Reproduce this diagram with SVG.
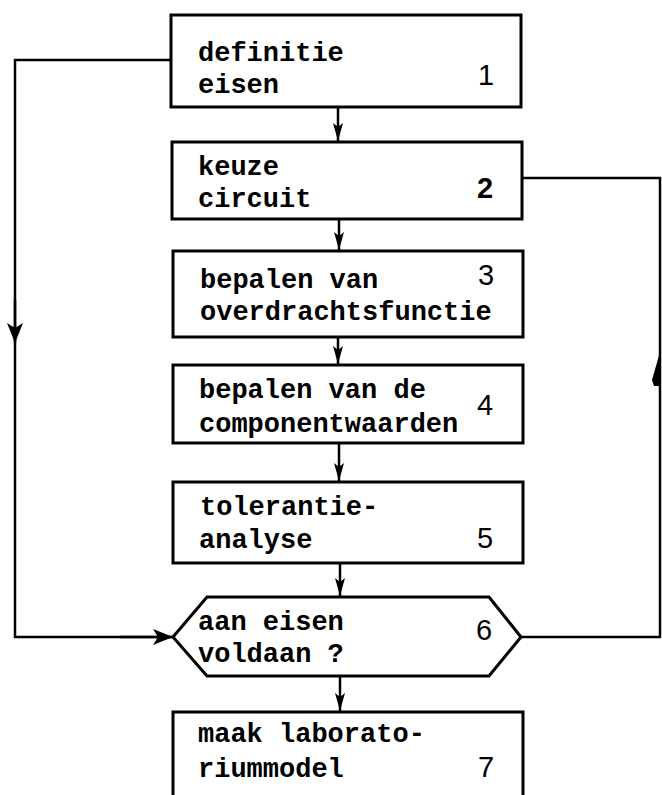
<svg xmlns="http://www.w3.org/2000/svg" width="662" height="795" viewBox="0 0 662 795">
  <style>
    .box { fill: #fff; stroke: #000; stroke-width: 3; }
    .line { fill: none; stroke: #000; stroke-width: 2.5; }
    .t { font-family: "Liberation Mono", "Courier New", monospace; font-size: 27px; font-weight: bold; fill: #000; }
    .n { font-family: "Liberation Sans", Arial, sans-serif; font-size: 29px; fill: #000; }
  </style>
  <defs>
    <marker id="arrow" viewBox="0 0 18 11" refX="18" refY="5.5" markerWidth="18" markerHeight="11" markerUnits="userSpaceOnUse" orient="auto">
      <path d="M0,0.5 L18,5.5 L0,10.5 L4,5.5 Z" fill="#000"/>
    </marker>
    <marker id="arrow-big" viewBox="0 0 20 16" refX="20" refY="8" markerWidth="20" markerHeight="16" markerUnits="userSpaceOnUse" orient="auto">
      <path d="M0,0 L20,8 L0,16 L5,8 Z" fill="#000"/>
    </marker>
  </defs>
  <rect width="662" height="795" fill="#fff"/>

  <g id="connectors">
    <!-- main flow -->
    <line class="line" x1="338" y1="107" x2="338" y2="141" marker-end="url(#arrow)"/>
    <line class="line" x1="339" y1="220" x2="339" y2="250" marker-end="url(#arrow)"/>
    <line class="line" x1="338" y1="337" x2="338" y2="364" marker-end="url(#arrow)"/>
    <line class="line" x1="339" y1="443" x2="339" y2="481" marker-end="url(#arrow)"/>
    <line class="line" x1="340" y1="563" x2="340" y2="596" marker-end="url(#arrow)"/>
    <line class="line" x1="340" y1="676" x2="340" y2="711" marker-end="url(#arrow)"/>
    <!-- left loop -->
    <polyline class="line" points="171,60 15,60 15,637 172,637"/>
    <line class="line" x1="15" y1="300" x2="15" y2="343" marker-end="url(#arrow-big)"/>
    <line class="line" x1="120" y1="637" x2="173" y2="637" marker-end="url(#arrow-big)"/>
    <!-- right loop, half arrowhead pointing up -->
    <polyline class="line" points="521,637 660,637 660,178 523,178"/>
    <polygon points="660,352 661,386 654,386 652,380" fill="#000"/>
  </g>

  <g id="node1">
    <rect class="box" x="171" y="15" width="350" height="92"/>
    <text class="t" x="198" y="61">definitie</text>
    <text class="t" x="198" y="93">eisen</text>
    <text class="n" x="478" y="85">1</text>
  </g>
  <g id="node2">
    <rect class="box" x="172" y="142" width="350" height="77"/>
    <text class="t" x="198" y="175">keuze</text>
    <text class="t" x="198" y="207">circuit</text>
    <text class="n" x="477" y="198" font-weight="bold">2</text>
  </g>
  <g id="node3">
    <rect class="box" x="173" y="251" width="350" height="86"/>
    <text class="t" x="200" y="288">bepalen van</text>
    <text class="t" x="200" y="320">overdrachtsfunctie</text>
    <text class="n" x="478" y="285">3</text>
  </g>
  <g id="node4">
    <rect class="box" x="173" y="365" width="350" height="78"/>
    <text class="t" x="199" y="398">bepalen van de</text>
    <text class="t" x="199" y="432">componentwaarden</text>
    <text class="n" x="477" y="415">4</text>
  </g>
  <g id="node5">
    <rect class="box" x="173" y="482" width="350" height="81"/>
    <text class="t" x="200" y="515">tolerantie-</text>
    <text class="t" x="199" y="548">analyse</text>
    <text class="n" x="477" y="548">5</text>
  </g>
  <g id="node6">
    <polygon class="box" points="173,637 207,597 489,597 521,637 489,676 207,676"/>
    <text class="t" x="198" y="630">aan eisen</text>
    <text class="t" x="198" y="662">voldaan ?</text>
    <text class="n" x="476" y="640">6</text>
  </g>
  <g id="node7">
    <rect class="box" x="173" y="712" width="350" height="100"/>
    <text class="t" x="198" y="742">maak laborato-</text>
    <text class="t" x="198" y="777">riummodel</text>
    <text class="n" x="478" y="777">7</text>
  </g>
</svg>
